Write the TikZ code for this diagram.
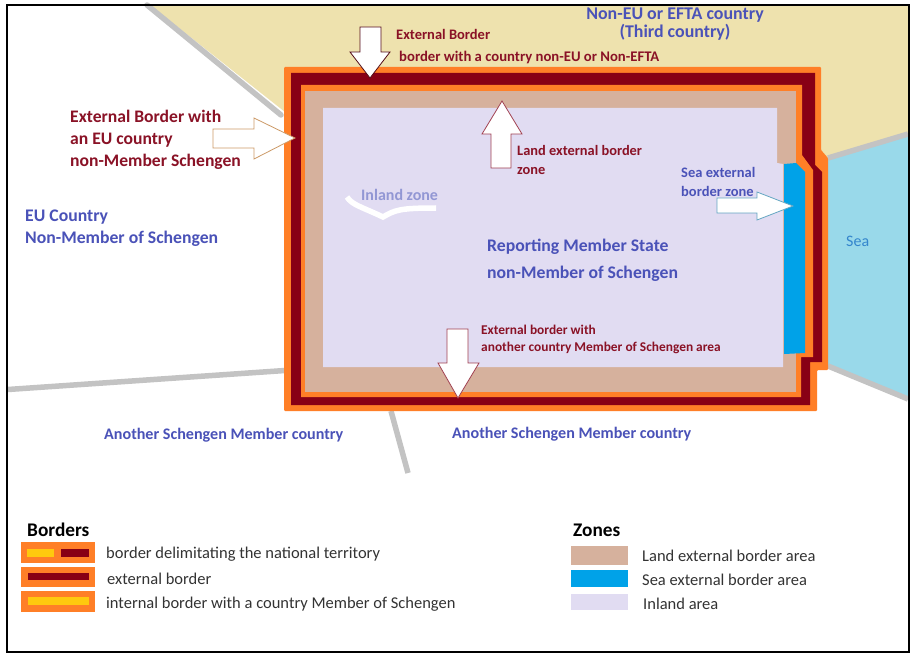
\documentclass[tikz,border=0pt]{standalone}
\usepackage{xcolor}
\usepackage{fontspec}
\setmainfont{Carlito}
\usetikzlibrary{positioning, calc}

\definecolor{bordOrange}{HTML}{FF7F27}
\definecolor{bordRed}{HTML}{880015}
\definecolor{bordYellow}{HTML}{FFC90E}
\definecolor{zoneLand}{HTML}{D6B19D}
\definecolor{zoneSea}{HTML}{00A2E8}
\definecolor{zoneInland}{HTML}{E1DCF2}
\definecolor{thirdLand}{HTML}{EEE2AE}
\definecolor{seaWater}{HTML}{99D9EA}
\definecolor{frontier}{HTML}{C3C3C3}
\definecolor{labelBlue}{HTML}{4A52B8}
\definecolor{labelRed}{HTML}{8A1226}
\definecolor{legendText}{HTML}{333333}

\tikzset{
    redlabel/.style={text=labelRed, font=\bfseries\fontsize{#1}{#1}\selectfont},
    bluelabel/.style={text=labelBlue, font=\bfseries\fontsize{#1}{#1}\selectfont},
    legendlabel/.style={text=legendText, font=\fontsize{16.5}{18}\selectfont},
    legendhead/.style={text=black, font=\bfseries\fontsize{19.3}{20}\selectfont},
    frontierline/.style={frontier, line width=5.5pt},
    pointer/.style={fill=white, line width=0.8pt}
}

\begin{document}
\begin{tikzpicture}[
    x=1pt, y=-1pt,
    every node/.style={inner sep=0pt, anchor=west, align=left}
]
\useasboundingbox (0,0) rectangle (910,655);
\fill[white] (0,0) rectangle (910,655);

% Neighbouring land and sea
\fill[thirdLand] (150,5) -- (285,112) -- (285,100) -- (815,100) -- (815,160) -- (828,158) -- (908,134) -- (908,5) -- cycle;
\fill[seaWater] (826,158) -- (908,134) -- (908,400) -- (826,366) -- cycle;

% Frontiers
\draw[frontierline, line cap=round] (147,5) -- (281,115);
\draw[frontierline] (828,158) -- (908,134);
\draw[frontierline] (828,366) -- (908,399);
\draw[frontierline] (8,389.5) -- (285,370.5);
\draw[frontierline] (391,411) -- (408,473);

% National territory, outside to inside
\fill[bordOrange, rounded corners=1pt] (284,67) -- (821,67) -- (821,150) -- (828,158) -- (828,370) -- (817,370) -- (817,411) -- (284,411) -- cycle;
\fill[bordRed] (291,73) -- (815,73) -- (815,165) -- (822,172) -- (822,362) -- (810,362) -- (810,405) -- (291,405) -- cycle;
\fill[bordOrange] (301,85) -- (802,85) -- (802,155) -- (813,170) -- (813,357) -- (801,357) -- (801,397) -- (301,397) -- cycle;
\fill[zoneLand] (305,91) -- (796,91) -- (796,392) -- (305,392) -- cycle;
\fill[zoneInland] (323,108) -- (777,108) -- (777,163) -- (783,164) -- (783,367) -- (323,367) -- cycle;
\fill[zoneSea] (784,164) -- (796,163) -- (805,172) -- (805,353) -- (784,354) -- cycle;
\draw[white, line width=5.5pt] (347,197) .. controls (352,205) and (362,207) .. (383,217) .. controls (395,210) and (400,208) .. (436,208);

% Pointers
\draw[pointer, draw=labelRed!60!black] (360,27) -- (381,27) -- (381,52) -- (390,52) -- (370,78) -- (350,52) -- (360,52) -- cycle;
\draw[pointer, draw=brown!80!white] (213,129) -- (254,129) -- (254,118) -- (295,138) -- (254,159) -- (254,148) -- (213,148) -- cycle;
\draw[pointer, draw=labelRed!80!white] (491,168) -- (491,134) -- (482,134) -- (502,101) -- (522,134) -- (511,134) -- (511,168) -- cycle;
\draw[pointer, draw=cyan!50!gray] (717,198) -- (757,198) -- (757,192) -- (793,206) -- (757,220) -- (757,213) -- (717,213) -- cycle;
\draw[pointer, draw=labelRed!80!white] (447,329) -- (468,329) -- (468,363) -- (479,363) -- (458,398) -- (438,363) -- (447,363) -- cycle;

% Map labels
\node[redlabel=14.5] (extTop) at (396,34) {External Border};
\node[redlabel=14.7] (extThird) at (399,58) {border with a country non-EU or Non-EFTA};
\node[bluelabel=17.9, align=center, anchor=center] (thirdName) at (675,24) {Non-EU or EFTA country\\[0pt](Third country)};
\node[redlabel=17.6] (extEU) at (70,139.5) {External Border with\\[4.5pt]an EU country\\[4.5pt]non-Member Schengen};
\node[bluelabel=17.7] (euName) at (25,228.5) {EU Country\\[4.5pt]Non-Member of Schengen};
\node[text=labelBlue!60!white, font=\bfseries\fontsize{16}{16}\selectfont] (inlandZone) at (361,194.5) {Inland zone};
\node[redlabel=14.4] (landZone) at (517,160) {Land external border\\[4pt]zone};
\node[bluelabel=14.5] (seaZone) at (681,182) {Sea external\\[4pt]border zone};
\node[text=labelBlue!70!cyan, font=\fontsize{16}{16}\selectfont] (seaName) at (846,241) {Sea};
\node[bluelabel=17.7] (reporting) at (487,260) {Reporting Member State\\[9.5pt]non-Member of Schengen};
\node[redlabel=13.4] (extSchengen) at (481,339.5) {External border with\\[3.6pt]another country Member of Schengen area};
\node[bluelabel=16.1] (memberLeft) at (104,435.5) {Another Schengen Member country};
\node[bluelabel=16.1] (memberRight) at (452,434) {Another Schengen Member country};

% Borders legend
\node[legendhead] (borders) at (27,529.5) {Borders};
\foreach \y/\h in {542/21, 567/20, 591/21}
    \fill[bordOrange] (21,\y) rectangle (95,\y+\h);
\fill[bordYellow] (27,549) rectangle (54,557);
\fill[bordRed] (61,549) rectangle (89,557);
\fill[bordRed] (28,573) rectangle (89,580);
\fill[bordYellow] (28,597) rectangle (89,605);
\node[legendlabel] (bordAll) at (106,554.5) {border delimitating the national territory};
\node[legendlabel] (bordExt) at (107,578.5) {external border};
\node[legendlabel] (bordInt) at (106,604.5) {internal border with a country Member of Schengen};

% Zones legend
\node[legendhead] (zones) at (573,530) {Zones};
\foreach \col/\y/\h in {zoneLand/546/19, zoneSea/570/17, zoneInland/594/16}
    \fill[\col] (571,\y) rectangle (628,\y+\h);
\node[legendlabel] (zoneA) at (642,555.5) {Land external border area};
\node[legendlabel] (zoneB) at (642,579.5) {Sea external border area};
\node[legendlabel] (zoneC) at (643,603.5) {Inland area};

% Frame
\draw[black, line width=2pt] (7,5) rectangle (909,652);
\end{tikzpicture}
\end{document}
